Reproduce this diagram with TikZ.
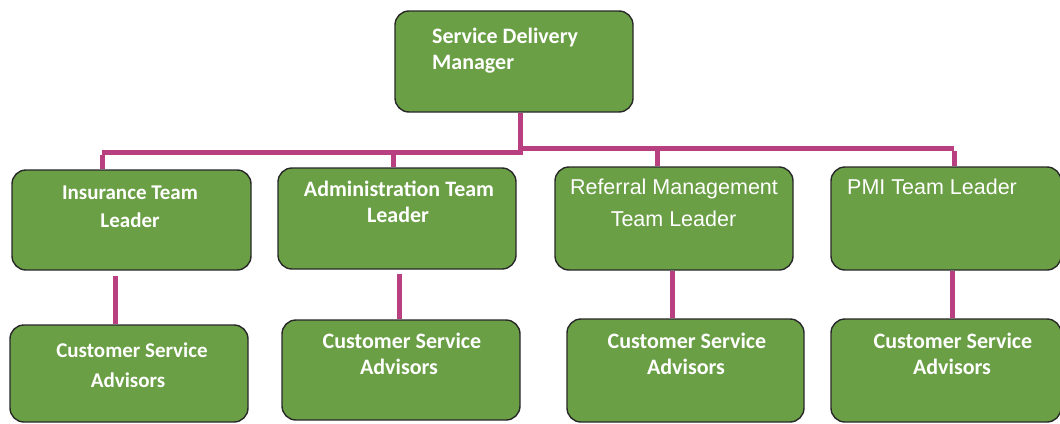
\documentclass[tikz,border=0pt]{standalone}
\usepackage{fontspec}
\newfontfamily\carlitofam{Carlito}
\newfontfamily\arialfam{Liberation Sans}
\definecolor{boxgreen}{RGB}{106,159,69}
\definecolor{conncol}{RGB}{184,64,128}
\definecolor{edgecol}{RGB}{40,40,40}
\begin{document}
\begin{tikzpicture}[x=1pt,y=-1pt,
  box/.style={draw=edgecol,line width=1.4pt,fill=boxgreen,rounded corners=14pt,inner sep=0pt},
  conn/.style={draw=conncol,line width=5pt},
  lblc/.style={text=white,font=\carlitofam\bfseries\fontsize{22}{26}\selectfont,inner sep=0pt},
  lbls/.style={text=white,font=\carlitofam\bfseries\fontsize{21}{26}\selectfont,inner sep=0pt},
  lbla/.style={text=white,font=\arialfam\fontsize{21.5}{26}\selectfont,inner sep=0pt}]
\useasboundingbox (0,0) rectangle (1060,423);
% boxes
\node[box,minimum width=238pt,minimum height=101pt] (sdm) at (514,61.5) {};
\node[box,minimum width=239pt,minimum height=100pt] (ins) at (131.5,220) {};
\node[box,minimum width=238pt,minimum height=101pt] (adm) at (397,218.5) {};
\node[box,minimum width=238pt,minimum height=103pt] (ref) at (674,218.5) {};
\node[box,minimum width=230pt,minimum height=103pt] (pmi) at (946,218.5) {};
\node[box,minimum width=238pt,minimum height=97pt] (insc) at (129,373.5) {};
\node[box,minimum width=238pt,minimum height=100pt] (admc) at (401,370) {};
\node[box,minimum width=237pt,minimum height=103pt] (refc) at (685.5,370.5) {};
\node[box,minimum width=230pt,minimum height=103pt] (pmic) at (946,370.5) {};
% connector guide coordinates
\coordinate (top) at (520,0);
\coordinate (jl) at (520,152);
\coordinate (jr) at (520,148);
\coordinate (d1) at (102,0);
\coordinate (d2) at (393,0);
\coordinate (d3) at (657,0);
\coordinate (d4) at (954,0);
\coordinate (k1) at (115,0);
\coordinate (k2) at (399,0);
\coordinate (k3) at (672,0);
\coordinate (k4) at (952,0);
% connectors
\draw[conn] (sdm.south -| top) -- (jl);
\draw[conn] (jl -| d1) -- ([xshift=2.5pt]jl);
\draw[conn] ([xshift=-2.5pt]jr) -- (jr -| d4);
\draw[conn] ([yshift=-2.5pt]jl -| d1) -- (ins.north -| d1);
\draw[conn] (jl -| d2) -- (adm.north -| d2);
\draw[conn] ([yshift=-2.5pt]jr -| d3) -- (ref.north -| d3);
\draw[conn] ([yshift=-2.5pt]jr -| d4) -- (pmi.north -| d4);
\draw[conn,shorten <=5pt] (ins.south -| k1) -- (insc.north -| k1);
\draw[conn,shorten <=4pt] (adm.south -| k2) -- (admc.north -| k2);
\draw[conn] (ref.south -| k3) -- (refc.north -| k3);
\draw[conn] (pmi.south -| k4) -- (pmic.north -| k4);
% texts
\node[lblc,anchor=base west] (sdm1) at (432,43) {Service Delivery};
\node[lblc,anchor=base west] (sdm2) at (432,69) {Manager};
\node[lbls,anchor=base] (ins1) at (130,199) {Insurance Team};
\node[lbls,anchor=base] (ins2) at (130,227) {Leader};
\node[lblc,anchor=base] (adm1) at (399,196) {Administration Team};
\node[lblc,anchor=base] (adm2) at (398,222) {Leader};
\node[lbla,anchor=base] (ref1) at (674,194) {Referral Management};
\node[lbla,anchor=base] (ref2) at (673.5,226) {Team Leader};
\node[lbla,anchor=base west] (pmi1) at (847,194) {PMI Team Leader};
\node[lbls,anchor=base] (insc1) at (132,357) {Customer Service};
\node[lbls,anchor=base] (insc2) at (128,387) {Advisors};
\node[lblc,anchor=base] (admc1) at (402,348) {Customer Service};
\node[lblc,anchor=base] (admc2) at (399,374) {Advisors};
\node[lblc,anchor=base] (refc1) at (687,348) {Customer Service};
\node[lblc,anchor=base] (refc2) at (686,374) {Advisors};
\node[lblc,anchor=base] (pmic1) at (953,348) {Customer Service};
\node[lblc,anchor=base] (pmic2) at (952,374) {Advisors};
\end{tikzpicture}
\end{document}
